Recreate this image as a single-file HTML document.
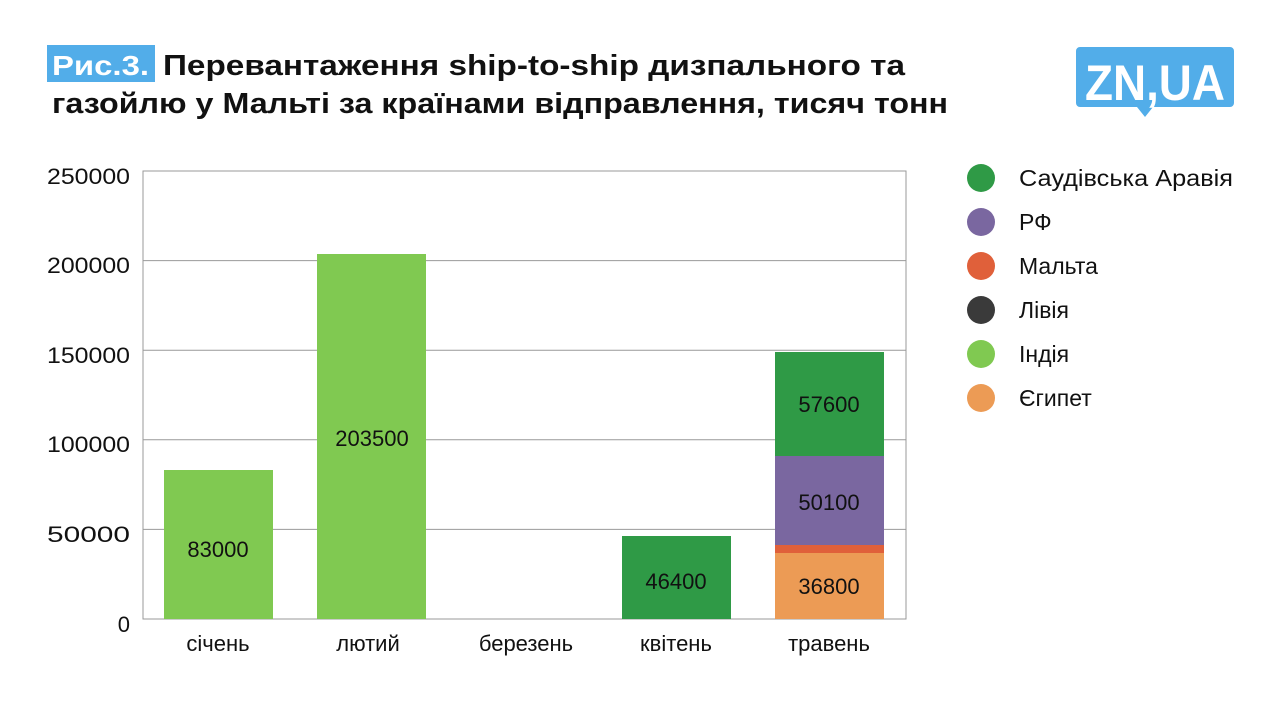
<!DOCTYPE html>
<html><head><meta charset="utf-8"><style>
body{margin:0;background:#fff;width:1280px;height:711px;overflow:hidden;font-family:"Liberation Sans","DejaVu Sans",sans-serif}
</style></head><body>
<svg width="1280" height="711" xmlns="http://www.w3.org/2000/svg" font-family="Liberation Sans, DejaVu Sans, sans-serif">
<rect x="47" y="45" width="108" height="37" fill="#52ade9"/>
<text x="52" y="75" font-size="28" font-weight="bold" fill="#fff" textLength="97" lengthAdjust="spacingAndGlyphs">Рис.3.</text>
<text x="163" y="75" font-size="29" font-weight="bold" fill="#111" textLength="742" lengthAdjust="spacingAndGlyphs">Перевантаження ship-to-ship дизпального та</text>
<text x="52" y="113" font-size="29" font-weight="bold" fill="#111" textLength="896" lengthAdjust="spacingAndGlyphs">газойлю у Мальті за країнами відправлення, тисяч тонн</text>
<path d="M1080 47 h150 a4 4 0 0 1 4 4 v52 a4 4 0 0 1 -4 4 h-77 l-8 10 l-8 -10 h-57 a4 4 0 0 1 -4 -4 v-52 a4 4 0 0 1 4 -4z" fill="#52ade9"/>
<text x="1085" y="100" font-size="50" font-weight="bold" fill="#fff" textLength="140" lengthAdjust="spacingAndGlyphs">ZN,UA</text>
<g stroke="#999" stroke-width="1">
<line x1="143" y1="529.4" x2="906" y2="529.4"/><line x1="143" y1="439.8" x2="906" y2="439.8"/>
<line x1="143" y1="350.2" x2="906" y2="350.2"/><line x1="143" y1="260.6" x2="906" y2="260.6"/>
<rect x="143" y="171" width="763" height="448" fill="none"/>
</g>
<g font-size="22" fill="#111" text-anchor="end">
<text x="130" y="632">0</text>
<text x="130" y="542" textLength="83" lengthAdjust="spacingAndGlyphs">50000</text>
<text x="130" y="452" textLength="83" lengthAdjust="spacingAndGlyphs">100000</text>
<text x="130" y="363" textLength="83" lengthAdjust="spacingAndGlyphs">150000</text>
<text x="130" y="273" textLength="83" lengthAdjust="spacingAndGlyphs">200000</text>
<text x="130" y="184" textLength="83" lengthAdjust="spacingAndGlyphs">250000</text>
</g>
<rect x="164" y="470" width="109" height="149" fill="#80c951"/>
<rect x="317" y="254" width="109" height="365" fill="#80c951"/>
<rect x="622" y="536" width="109" height="83" fill="#2f9a46"/>
<rect x="775" y="553" width="109" height="66" fill="#ec9b55"/>
<rect x="775" y="545" width="109" height="8" fill="#e0603a"/>
<rect x="775" y="456" width="109" height="89" fill="#7a67a0"/>
<rect x="775" y="352" width="109" height="104" fill="#2f9a46"/>
<g font-size="22" fill="#111" text-anchor="middle">
<text x="218" y="557">83000</text><text x="372" y="446">203500</text><text x="676" y="589">46400</text>
<text x="829" y="594">36800</text><text x="829" y="510">50100</text><text x="829" y="412">57600</text>
<text x="218" y="651">січень</text><text x="368" y="651">лютий</text><text x="526" y="651">березень</text>
<text x="676" y="651">квітень</text><text x="829" y="651">травень</text>
</g>
<circle cx="981" cy="178" r="14" fill="#2f9a46"/><circle cx="981" cy="222" r="14" fill="#7a67a0"/>
<circle cx="981" cy="266" r="14" fill="#e0603a"/><circle cx="981" cy="310" r="14" fill="#3a3a3a"/>
<circle cx="981" cy="354" r="14" fill="#80c951"/><circle cx="981" cy="398" r="14" fill="#ec9b55"/>
<g font-size="23" fill="#111">
<text x="1019" y="186" textLength="214" lengthAdjust="spacingAndGlyphs">Саудівська Аравія</text><text x="1019" y="230">РФ</text><text x="1019" y="274">Мальта</text>
<text x="1019" y="318">Лівія</text><text x="1019" y="362">Індія</text><text x="1019" y="406">Єгипет</text>
</g>
</svg>
</body></html>
